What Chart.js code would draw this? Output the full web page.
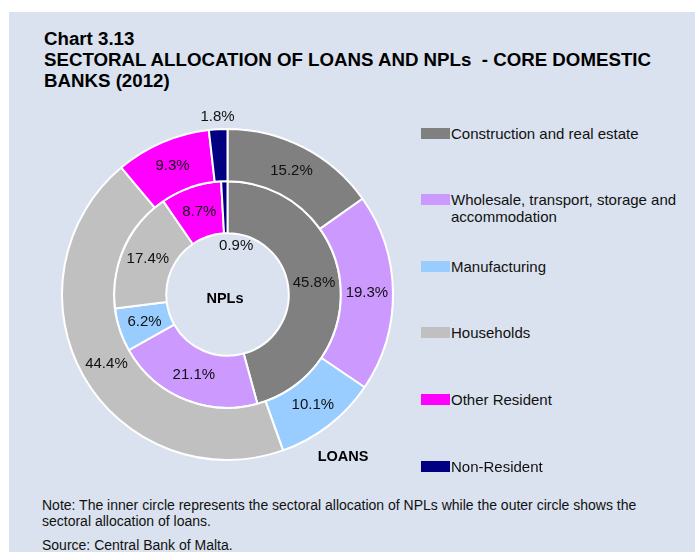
<!DOCTYPE html>
<html lang="en">
<head>
<meta charset="UTF-8">
<title>Chart 3.13 - Sectoral allocation of loans and NPLs</title>
<script src="https://cdn.jsdelivr.net/npm/chart.js"></script>
<style>
    body {
        margin: 0;
        background: #ffffff;
        font-family: 'Liberation Sans', Arial, sans-serif;
        color: #111;
    }
    .panel {
        position: absolute;
        left: 9px;
        top: 12px;
        width: 686px;
        height: 540px;
        background: #dae2ef;
    }
    .title {
        position: absolute;
        left: 35px;
        top: 16px;
        font-weight: bold;
        font-size: 18.7px;
        line-height: 21px;
        color: #000;
    }
    .chart-box {
        position: absolute;
        left: 32px;
        top: 96px;
        width: 373px;
        height: 373px;
    }
    .tag {
        position: absolute;
        font-weight: bold;
        font-size: 14.5px;
        color: #000;
        transform: translate(-50%, -50%);
        white-space: nowrap;
    }
    .legend {
        position: absolute;
        left: 412px;
        top: 0;
    }
    .legend-item {
        position: absolute;
        left: 0;
        width: 270px;
        font-size: 15px;
        line-height: 17px;
    }
    .legend-item .swatch {
        position: absolute;
        left: 0;
        top: 3px;
        width: 29px;
        height: 11px;
    }
    .legend-item .text {
        margin-left: 30px;
    }
    .note {
        position: absolute;
        left: 33px;
        top: 485px;
        font-size: 14px;
        line-height: 16px;
    }
    .source {
        position: absolute;
        left: 33px;
        top: 525px;
        font-size: 14px;
    }
</style>
</head>
<body>
<div class="panel">
    <div class="title">Chart 3.13<br>SECTORAL ALLOCATION OF LOANS AND NPLs&nbsp; - CORE DOMESTIC<br>BANKS (2012)</div>
    <div class="chart-box"><canvas id="sectorChart"></canvas></div>
    <div class="tag" style="left:216px; top:286px;">NPLs</div>
    <div class="tag" style="left:334px; top:444px;">LOANS</div>
    <div class="legend" id="legend"></div>
    <div class="note">Note: The inner circle represents the sectoral allocation of NPLs while the outer circle shows the<br>sectoral allocation of loans.</div>
    <div class="source">Source: Central Bank of Malta.</div>
</div>

<script>
    // sectors, clockwise from 12 o'clock
    const sectors = [
        'Construction and real estate',
        'Wholesale, transport, storage and accommodation',
        'Manufacturing',
        'Households',
        'Other Resident',
        'Non-Resident'
    ];
    const sectorColors = ['#808080', '#cc99ff', '#99ccff', '#c0c0c0', '#ff00ff', '#000080'];

    // shares in per cent
    const loanShares = [15.2, 19.3, 10.1, 44.4, 9.3, 1.8];   // outer ring
    const nplShares = [45.8, 21.1, 6.2, 17.4, 8.7, 0.9];     // inner ring

    // percentage labels on each slice; very thin slices get their label
    // pushed outside (outer ring) or into the hole (inner ring)
    const sliceLabels = {
        id: 'sliceLabels',
        afterDatasetsDraw(chart) {
            const ctx = chart.ctx;
            ctx.save();
            ctx.font = '15px "Liberation Sans", Arial, sans-serif';
            ctx.fillStyle = '#111';
            ctx.textAlign = 'center';
            ctx.textBaseline = 'middle';
            chart.data.datasets.forEach((ds, di) => {
                const meta = chart.getDatasetMeta(di);
                meta.data.forEach((arc, i) => {
                    const p = arc.getProps(['x', 'y', 'startAngle', 'endAngle', 'innerRadius', 'outerRadius'], true);
                    const mid = (p.startAngle + p.endAngle) / 2;
                    let r = (p.innerRadius + p.outerRadius) / 2;
                    let dx = 0;
                    if (ds.data[i] < 3) {
                        if (di === 0) {
                            r = p.outerRadius + 12;
                        } else {
                            r = p.innerRadius - 13;
                            dx = 10;
                        }
                    }
                    const x = p.x + Math.cos(mid) * r + dx;
                    const y = p.y + Math.sin(mid) * r;
                    ctx.fillText(ds.data[i].toFixed(1) + '%', x, y);
                });
            });
            ctx.restore();
        }
    };

    const chart = new Chart(document.getElementById('sectorChart'), {
        type: 'doughnut',
        data: {
            labels: sectors,
            datasets: [
                {
                    label: 'Loans',
                    data: loanShares,
                    backgroundColor: sectorColors,
                    borderColor: '#ffffff',
                    borderWidth: 2
                },
                {
                    label: 'NPLs',
                    data: nplShares,
                    backgroundColor: sectorColors,
                    borderColor: '#ffffff',
                    borderWidth: 2
                }
            ]
        },
        options: {
            responsive: true,
            maintainAspectRatio: false,
            animation: false,
            cutout: '37%',
            layout: { padding: 20 },
            plugins: {
                legend: { display: false },
                tooltip: { enabled: false }
            }
        },
        plugins: [sliceLabels]
    });

    // legend on the right, one entry per sector
    const legendEl = document.getElementById('legend');
    const legendTops = [113, 179, 246, 312, 379, 446];
    sectors.forEach((name, i) => {
        const item = document.createElement('div');
        item.className = 'legend-item';
        item.style.top = legendTops[i] + 'px';
        const sw = document.createElement('span');
        sw.className = 'swatch';
        sw.style.background = sectorColors[i];
        const tx = document.createElement('div');
        tx.className = 'text';
        tx.textContent = name;
        item.appendChild(sw);
        item.appendChild(tx);
        legendEl.appendChild(item);
    });
</script>
</body>
</html>
